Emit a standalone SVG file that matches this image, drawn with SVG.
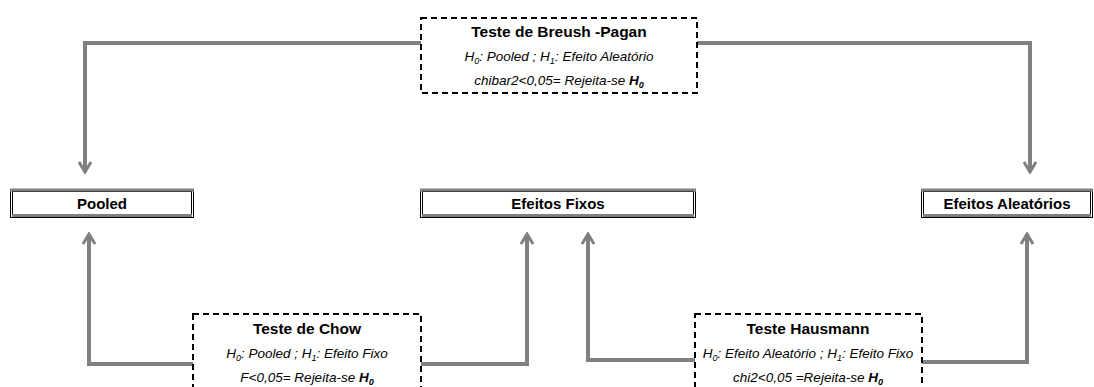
<svg xmlns="http://www.w3.org/2000/svg" width="1094" height="387" viewBox="0 0 1094 387">
<defs>
<style>
.t{font-family:"Liberation Sans",Arial,sans-serif;font-weight:bold;font-size:15.5px;fill:#000;text-anchor:middle}
.n{font-size:15px}
.i{font-family:"Liberation Sans",Arial,sans-serif;font-style:italic;font-size:13.5px;fill:#000;text-anchor:middle}
.sub{font-size:9px}
.dash{fill:#fff;stroke:#000;stroke-width:2;stroke-dasharray:6,4}
.c{fill:none;stroke:#808080;stroke-width:4}
.ob{fill:#fff;stroke:#000;stroke-width:1}
.gb{stroke:#808080;stroke-width:3}
</style>
<marker id="ah" viewBox="0 0 14 14" refX="12" refY="7" markerWidth="14" markerHeight="14" markerUnits="userSpaceOnUse" orient="auto">
<polyline points="2,1 12,7 2,13" fill="none" stroke="#808080" stroke-width="3"/>
</marker>
</defs>
<g id="connectors">
<polyline class="c" points="421,43 85,43 85,172" marker-end="url(#ah)"/>
<polyline class="c" points="697,43 1030,43 1030,172" marker-end="url(#ah)"/>
<polyline class="c" points="193,364 89,364 89,234" marker-end="url(#ah)"/>
<polyline class="c" points="421,364 527,364 527,234" marker-end="url(#ah)"/>
<polyline class="c" points="695,360 588,360 588,234" marker-end="url(#ah)"/>
<polyline class="c" points="922,362 1027,362 1027,234" marker-end="url(#ah)"/>
</g>
<g id="breusch">
<rect class="dash" x="421" y="18" width="276" height="75"/>
<text class="t" x="559" y="37">Teste de Breush -Pagan</text>
<text class="i" x="559" y="61">H<tspan class="sub" dy="3">0</tspan><tspan dy="-3">: Pooled ; H</tspan><tspan class="sub" dy="3">1</tspan><tspan dy="-3">: Efeito Aleatório</tspan></text>
<text class="i" x="559" y="85">chibar2&lt;0,05= Rejeita-se  <tspan font-weight="bold">H</tspan><tspan class="sub" font-weight="bold" dy="3">0</tspan></text>
</g>
<g id="pooled">
<rect class="ob" x="10.5" y="189.5" width="183" height="28"/>
<rect class="ob" x="12.5" y="191.5" width="179" height="24"/>
<line class="gb" x1="10" y1="190" x2="194" y2="190"/>
<line class="gb" x1="12" y1="215.5" x2="192" y2="215.5"/>
<text class="t n" x="102" y="209">Pooled</text>
</g>
<g id="fixos">
<rect class="ob" x="420.5" y="189.5" width="275" height="28"/>
<rect class="ob" x="422.5" y="191.5" width="271" height="24"/>
<line class="gb" x1="420" y1="190" x2="696" y2="190"/>
<line class="gb" x1="422" y1="215.5" x2="694" y2="215.5"/>
<text class="t n" x="558" y="209">Efeitos Fixos</text>
</g>
<g id="aleatorios">
<rect class="ob" x="921.5" y="189.5" width="171" height="28"/>
<rect class="ob" x="923.5" y="191.5" width="167" height="24"/>
<line class="gb" x1="921" y1="190" x2="1093" y2="190"/>
<line class="gb" x1="923" y1="215.5" x2="1091" y2="215.5"/>
<text class="t n" x="1007" y="209">Efeitos Aleatórios</text>
</g>
<g id="chow">
<rect class="dash" x="193" y="314" width="228" height="80"/>
<text class="t" x="307" y="334">Teste de Chow</text>
<text class="i" x="307" y="358">H<tspan class="sub" dy="3">0</tspan><tspan dy="-3">: Pooled ; H</tspan><tspan class="sub" dy="3">1</tspan><tspan dy="-3">: Efeito Fixo</tspan></text>
<text class="i" x="307" y="382">F&lt;0,05= Rejeita-se <tspan font-weight="bold">H</tspan><tspan class="sub" font-weight="bold" dy="3">0</tspan></text>
</g>
<g id="hausmann">
<rect class="dash" x="695" y="314" width="227" height="80"/>
<text class="t" x="808" y="334">Teste Hausmann</text>
<text class="i" x="808" y="358">H<tspan class="sub" dy="3">0</tspan><tspan dy="-3">: Efeito Aleatório ; H</tspan><tspan class="sub" dy="3">1</tspan><tspan dy="-3">: Efeito Fixo</tspan></text>
<text class="i" x="808" y="382">chi2&lt;0,05 =Rejeita-se <tspan font-weight="bold">H</tspan><tspan class="sub" font-weight="bold" dy="3">0</tspan></text>
</g>
</svg>
